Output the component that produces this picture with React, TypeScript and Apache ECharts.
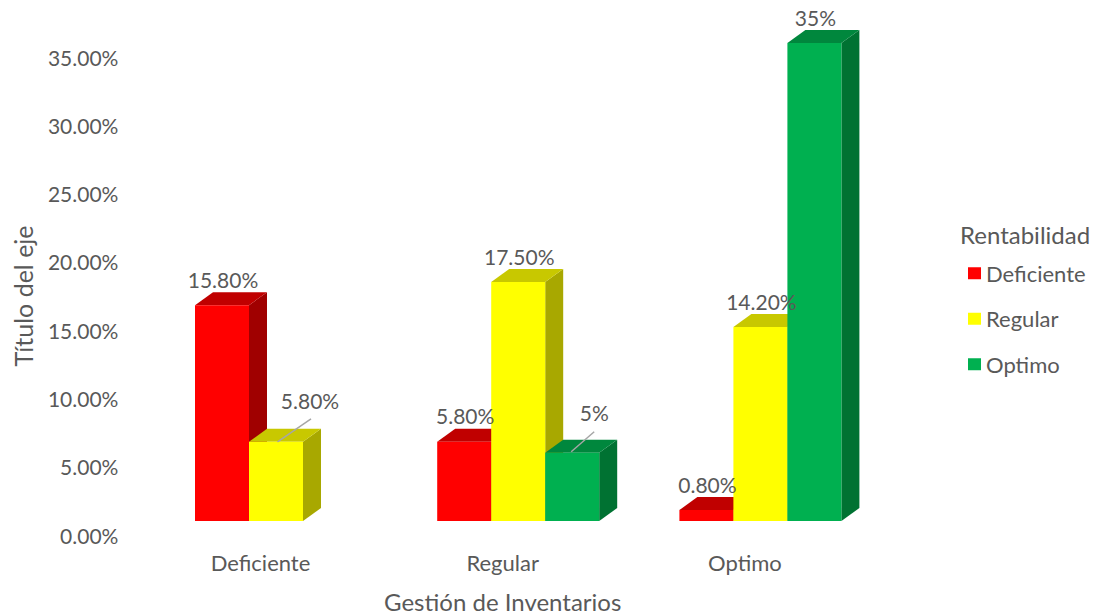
import React, { useEffect, useRef } from "react";
import * as echarts from "echarts";

// ---- data ----
const categories = ["Deficiente", "Regular", "Optimo"];
const seriesNames = ["Deficiente", "Regular", "Optimo"];
const deficienteValues: (number | null)[] = [15.8, 5.8, 0.8];
const regularValues: (number | null)[] = [5.8, 17.5, 14.2];
const optimoValues: (number | null)[] = [null, 5, 35];
const deficienteLabels = ["15.80%", "5.80%", "0.80%"];
const regularLabels = ["5.80%", "17.50%", "14.20%"];
const optimoLabels = ["", "5%", "35%"];
const yTickValues = [0, 5, 10, 15, 20, 25, 30, 35];

const allValues = [deficienteValues, regularValues, optimoValues];
const allLabels = [deficienteLabels, regularLabels, optimoLabels];

// ---- styles ----
const FONT = "Lato";
const TEXT = "#595959";
const faces = [
  { front: "#FF0000", top: "#C00000", side: "#A00000" },
  { front: "#FFFF00", top: "#C8C800", side: "#A8A800" },
  { front: "#00B050", top: "#00873D", side: "#007232" },
];
const BAR_W = 54;
const GROUP_SHIFT = 15.5;
const DX = 18;
const DY = 13;
const BASE_LIFT = 14;
// callouts (relative to front-top centre of a bar), keyed "series-category"
const callouts: Record<string, { lx: number; ly: number; ex: number; ey: number; sx: number; sy: number }> = {
  "1-0": { lx: 34, ly: -41, sx: 1.5, sy: 0, ex: 35, ey: -23 },
  "2-1": { lx: 22, ly: -40, sx: -1, sy: -1, ex: 22, ey: -21 },
};

function barGeom(api: any, si: number, cat: number, val: number) {
  const base = api.coord([cat, 0]);
  const top = api.coord([cat, val]);
  const cx = base[0] + GROUP_SHIFT;
  const x0 = cx - BAR_W * 1.5 + si * BAR_W;
  const x1 = x0 + BAR_W;
  const yb = base[1] - BASE_LIFT;
  const yt = top[1] - BASE_LIFT;
  return { x0, x1, yb, yt };
}

export default function App() {
  const ref = useRef<HTMLDivElement>(null);
  useEffect(() => {
    if (!ref.current) return;
    const chart = echarts.init(ref.current, undefined, { renderer: "svg" });

    const barSeries = allValues.map((vals, si) => ({
      type: "custom",
      name: seriesNames[si],
      itemStyle: { color: faces[si].front },
      z: 2,
      data: vals.map((v, ci) => [ci, v]),
      renderItem: (params: any, api: any) => {
        const cat = api.value(0);
        const val = api.value(1);
        if (val == null || isNaN(val)) return null;
        const { x0, x1, yb, yt } = barGeom(api, si, cat, val);
        const f = faces[si];
        return {
          type: "group",
          children: [
            {
              type: "polygon",
              shape: { points: [[x1, yt], [x1 + DX, yt - DY], [x1 + DX, yb - DY], [x1, yb]] },
              style: { fill: f.side },
            },
            {
              type: "polygon",
              shape: { points: [[x0, yt], [x0 + DX, yt - DY], [x1 + DX, yt - DY], [x1, yt]] },
              style: { fill: f.top },
            },
            {
              type: "rect",
              shape: { x: x0, y: yt, width: BAR_W, height: yb - yt },
              style: { fill: f.front },
            },
          ],
        };
      },
    }));

    const labelData: any[] = [];
    allValues.forEach((vals, si) =>
      vals.forEach((v, ci) => {
        if (v != null) labelData.push([ci, v, si]);
      })
    );

    const labelSeries = {
      type: "custom",
      name: "labels",
      z: 10,
      silent: true,
      data: labelData,
      renderItem: (params: any, api: any) => {
        const cat = api.value(0);
        const val = api.value(1);
        const si = api.value(2);
        const { x0, yt } = barGeom(api, si, cat, val);
        const cx = x0 + BAR_W / 2;
        const txt = allLabels[si][cat];
        if (!txt) return null;
        const c = callouts[si + "-" + cat];
        const children: any[] = [];
        let lx = cx + 1, ly = yt - 26;
        if (c) {
          lx = cx + c.lx;
          ly = yt + c.ly;
          children.push({
            type: "line",
            shape: { x1: cx + c.sx, y1: yt + c.sy, x2: cx + c.ex, y2: yt + c.ey },
            style: { stroke: "#A6A6A6", lineWidth: 1.5 },
          });
        }
        children.push({
          type: "text",
          x: lx,
          y: ly,
          style: {
            text: txt,
            fill: TEXT,
            font: `21px ${FONT}`,
            align: "center",
            verticalAlign: "middle",
          },
        });
        return { type: "group", children };
      },
    };

    chart.setOption({
      animation: false,
      backgroundColor: "#ffffff",
      textStyle: { fontFamily: FONT },
      grid: { left: 139.4, right: 232, top: 57, bottom: 79, outerBoundsMode: "none", containLabel: false },
      xAxis: {
        type: "category",
        data: categories,
        axisLine: { show: false },
        axisTick: { show: false },
        axisLabel: { color: TEXT, fontSize: 22, fontFamily: FONT, margin: 16 },
        name: "Gestión de Inventarios",
        nameLocation: "middle",
        nameGap: 54,
        nameTextStyle: { color: TEXT, fontSize: 24, fontFamily: FONT },
      },
      yAxis: {
        type: "value",
        min: yTickValues[0],
        max: yTickValues[yTickValues.length - 1],
        interval: 5,
        axisLine: { show: false },
        axisTick: { show: false },
        splitLine: { show: false },
        axisLabel: {
          color: TEXT,
          fontSize: 21,
          fontFamily: FONT,
          margin: 21,
          formatter: (v: number) => v.toFixed(2) + "%",
        },
        name: "Título del eje",
        nameLocation: "middle",
        nameGap: 104,
        nameRotate: 90,
        nameTextStyle: { color: TEXT, fontSize: 25, fontFamily: FONT },
      },
      legend: {
        data: seriesNames.map((n) => ({ name: n, icon: "rect" })),
        orient: "vertical",
        left: 968,
        top: 261,
        padding: 0,
        itemWidth: 13,
        itemHeight: 12,
        itemGap: 21,
        selectedMode: false,
        textStyle: { color: TEXT, fontSize: 22, fontFamily: FONT, lineHeight: 24.5 },
      },
      graphic: [
        {
          type: "text",
          left: 960,
          top: 222,
          style: { text: "Rentabilidad", fill: TEXT, font: `24px ${FONT}` },
        },
      ],
      series: [...barSeries, labelSeries],
    });
    return () => chart.dispose();
  }, []);
  return (
    <div
      ref={ref}
      style={{ position: "fixed", left: 0, top: 0, width: 1098, height: 614 }}
    />
  );
}
